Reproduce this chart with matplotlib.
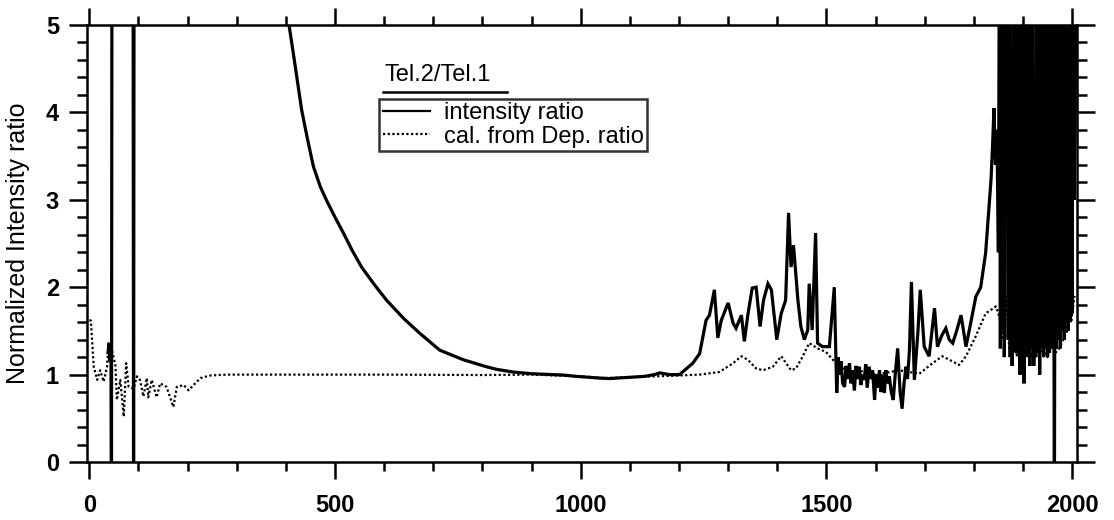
import matplotlib
matplotlib.use("Agg")
import matplotlib.pyplot as plt
from matplotlib.lines import Line2D
from matplotlib.ticker import MultipleLocator

plt.rcParams['font.family'] = ['Liberation Sans', 'DejaVu Sans']

# Tel.2/Tel.1 measured intensity ratio (values above 5 or below 0 run off the frame)
ratio_x = [38, 40, 42, 44, 45, 46, 60, 75, 89, 90, 91, 200, 300,
           406, 415, 422, 432, 443, 456, 470, 483, 500, 517, 535, 554, 580,
           605, 640, 673, 713, 761, 808, 829, 862, 900, 964, 991, 1039, 1059,
           1100, 1130, 1150, 1161, 1180, 1201,
           1228, 1242, 1255, 1262, 1272, 1279, 1286, 1300, 1310, 1316, 1327,
           1333, 1340, 1349, 1357, 1365, 1372, 1381, 1388, 1399, 1408, 1417,
           1423, 1428, 1433, 1442, 1448, 1455, 1462, 1465, 1471, 1478, 1482,
           1492, 1506,
           1516, 1521, 1524, 1527, 1530, 1533, 1537, 1540, 1543, 1547, 1550,
           1553, 1557, 1560, 1563, 1567, 1570, 1573, 1577, 1580, 1583, 1587,
           1590, 1594, 1598, 1601, 1604, 1608, 1611, 1614, 1618, 1621, 1624,
           1628, 1632, 1636, 1640, 1645, 1650, 1654, 1658, 1662, 1665, 1669,
           1673, 1679, 1686, 1691, 1699, 1709, 1720, 1726, 1735, 1743, 1750,
           1757, 1765, 1774, 1784, 1794, 1804, 1814, 1824, 1831, 1835, 1838,
           1841, 1844, 1847, 1850,
           1852, 1854, 1856, 1858, 1860, 1862, 1864, 1866, 1868, 1870, 1872,
           1874, 1876, 1878, 1880, 1882, 1884, 1886, 1888, 1890, 1892, 1894,
           1896, 1898, 1900, 1902, 1904, 1906, 1908, 1910, 1912, 1914, 1916,
           1918, 1920, 1922, 1924, 1926, 1928, 1930, 1932, 1934, 1936, 1938,
           1940, 1942, 1944, 1946, 1948, 1950, 1952, 1954, 1956, 1958, 1961,
           1964, 1966, 1968, 1970, 1972, 1974, 1976, 1978, 1980, 1982, 1984,
           1986, 1988, 1990, 1992, 1994, 1996, 1998, 2000, 2002, 2004, 2006,
           2008]
ratio_y = [1.25, 1.35, 1.15, 1.3, -0.5, 6.0, 6.0, 6.0, 6.0, -0.5, 6.0, 6.0, 6.0,
           5.01, 4.68, 4.41, 4.03, 3.72, 3.38, 3.15, 2.99, 2.80, 2.62, 2.42, 2.23, 2.03,
           1.85, 1.64, 1.47, 1.28, 1.17, 1.09, 1.06, 1.03, 1.01, 0.995, 0.98, 0.96, 0.955,
           0.97, 0.98, 1.0, 1.02, 1.0, 1.0,
           1.13, 1.24, 1.62, 1.68, 1.97, 1.42, 1.62, 1.82, 1.59, 1.53, 1.68,
           1.38, 1.68, 1.99, 2.0, 1.55, 1.85, 2.04, 1.97, 1.40, 1.70, 1.85,
           2.85, 2.23, 2.48, 1.85, 1.55, 1.40, 1.51, 2.04, 1.51, 2.62, 1.36,
           1.32, 1.32,
           2.0, 0.79, 1.2, 1.0, 1.15, 0.9, 0.86, 1.1, 0.95, 1.13, 0.9,
           1.05, 0.82, 1.1, 0.95, 1.09, 0.88, 1.0, 0.94, 1.12, 0.85, 1.09,
           0.95, 1.05, 0.71, 1.0, 0.85, 1.05, 0.8, 1.0, 0.79, 1.05, 0.9,
           0.98, 0.8, 0.71, 1.0, 1.30, 0.8, 0.61, 0.9, 1.09, 0.95, 1.28,
           2.06, 0.94, 1.47, 1.97, 1.32, 1.21, 1.76, 1.32, 1.45, 1.53, 1.40,
           1.36, 1.50, 1.68, 1.32, 1.60, 1.89, 2.0, 2.39, 2.92, 3.23, 3.6,
           4.05, 3.4, 3.8, 2.4,
           6.0, 1.3, 6.0, 1.5, 6.0, 1.2, 6.0, 3.0, 6.0, 1.4, 6.0,
           1.2, 4.5, 1.1, 6.0, 1.3, 6.0, 1.25, 4.0, 1.4, 6.0, 1.0,
           6.0, 1.2, 6.0, 0.9, 6.0, 1.3, 6.0, 1.2, 3.6, 1.1, 6.0,
           1.3, 6.0, 1.1, 4.2, 1.2, 6.0, 1.25, 6.0, 1.0, 6.0, 1.3,
           6.0, 1.2, 6.0, 1.3, 6.0, 1.2, 6.0, 1.25, 6.0, 1.3, 6.0,
           -0.5, 6.0, 1.3, 6.0, 1.4, 6.0, 1.3, 6.0, 1.5, 6.0, 1.4,
           6.0, 1.6, 6.0, 1.5, 6.0, 1.6, 6.0, 1.7, 6.0, 3.0, 3.9,
           6.0]

# ratio calculated from the depolarization ratio
dep_x = [0, 3, 9, 16, 22, 29, 36, 39, 46, 53, 56, 63, 70, 75, 80, 90, 97,
         103, 110, 117, 120, 127, 137, 144, 157, 171, 178, 192, 202, 212,
         226, 246, 280, 400, 600, 800, 900, 1000, 1050, 1100, 1201, 1242,
         1282, 1310, 1327, 1340, 1357, 1371, 1391, 1408, 1418, 1428, 1438,
         1452, 1465, 1482, 1499, 1513, 1540, 1560, 1580, 1600, 1620, 1648,
         1689, 1716, 1736, 1757, 1770, 1784, 1804, 1824, 1845, 1852, 1860,
         1866, 1872, 1880, 1888, 1895, 1902, 1910, 1918, 1926, 1934, 1942,
         1950, 1958, 1966, 1974, 1982, 1990, 1995, 1998, 2005]
dep_y = [1.62, 1.62, 1.09, 0.94, 1.05, 0.92, 1.09, 1.36, 1.28, 1.11, 0.71,
         0.94, 0.52, 1.13, 0.86, 0.84, 0.98, 0.94, 0.75, 0.96, 0.74, 0.94,
         0.74, 0.90, 0.86, 0.63, 0.86, 0.88, 0.82, 0.88, 0.96, 0.99, 1.0,
         1.0, 1.0, 0.995, 1.0, 0.98, 0.96, 0.97, 0.99, 1.0, 1.03, 1.13,
         1.21, 1.17, 1.07, 1.05, 1.09, 1.21, 1.13, 1.05, 1.07, 1.21, 1.36,
         1.30, 1.26, 1.17, 1.05, 1.02, 1.05, 1.0, 1.02, 1.05, 1.01, 1.13,
         1.21, 1.15, 1.11, 1.21, 1.44, 1.70, 1.78, 1.66, 1.4, 1.9, 1.3,
         1.5, 1.2, 1.6, 1.25, 1.35, 1.2, 1.4, 1.25, 1.3, 1.2, 1.35,
         1.25, 1.3, 1.4, 1.5, 3.0, 1.6, 1.9]

fig = plt.figure(figsize=(11.14, 5.2), dpi=100)
ax = fig.add_axes([0.078, 0.1115, 0.8888, 0.8405])

ax.plot(ratio_x, ratio_y, color='black', lw=2.3, solid_joinstyle='miter',
        label='intensity ratio')
ax.plot(dep_x, dep_y, color='black', lw=1.6, linestyle=(0, (1, 1.1)),
        label='cal. from Dep. ratio')

ax.set_xlim(-5, 2010)
ax.set_ylim(0, 5)
ax.xaxis.set_major_locator(MultipleLocator(500))
ax.xaxis.set_minor_locator(MultipleLocator(100))
ax.yaxis.set_major_locator(MultipleLocator(1))
ax.yaxis.set_minor_locator(MultipleLocator(0.2))

for s in ax.spines.values():
    s.set_linewidth(1.8)
ax.tick_params(which='both', direction='out', top=True, right=True,
               width=1.8, colors='black')
ax.tick_params(axis='x', which='major', length=12, pad=11, labelsize=17)
ax.tick_params(axis='x', which='minor', length=6.5)
ax.tick_params(axis='y', which='major', length=13, pad=7, labelsize=17)
ax.tick_params(axis='y', which='minor', length=7)
for lab in ax.get_xticklabels() + ax.get_yticklabels():
    lab.set_fontweight('bold')

ax.set_ylabel('Normalized Intensity ratio', fontsize=18)
ax.yaxis.set_label_coords(-0.057, 0.5)

# title over the legend, underlined
ax.text(0.301, 0.886, 'Tel.2/Tel.1', transform=ax.transAxes, fontsize=17,
        ha='left', va='center')
ax.add_line(Line2D([0.299, 0.424], [0.847, 0.847], transform=ax.transAxes,
                   color='black', lw=1.8))

leg = ax.legend(loc='upper left', bbox_to_anchor=(0.295, 0.831), fontsize=17,
                frameon=True, fancybox=False, handlelength=2.0,
                handletextpad=0.6, borderpad=0.15, labelspacing=0.05,
                borderaxespad=0)
leg.get_frame().set_edgecolor('black')
leg.get_frame().set_linewidth(1.8)
for h in leg.get_lines():
    h.set_linewidth(1.6)

fig.savefig('out.png', dpi=100)
